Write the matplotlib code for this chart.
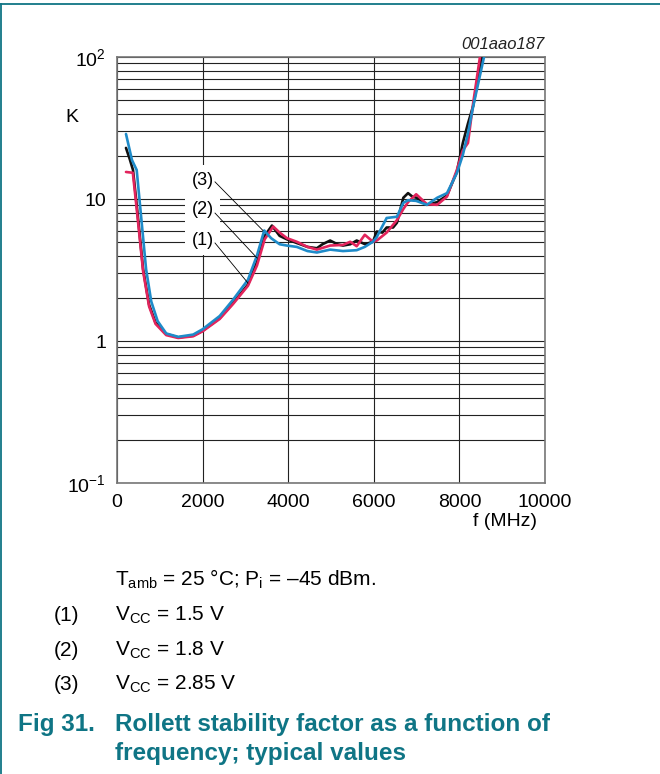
import matplotlib
matplotlib.use("Agg")
import matplotlib.pyplot as plt
import matplotlib.ticker as mticker
from matplotlib.lines import Line2D

plt.rcParams.update({
    "font.family": ["Liberation Sans", "DejaVu Sans"],
    "mathtext.fontset": "custom",
    "mathtext.rm": "Liberation Sans",
    "mathtext.it": "Liberation Sans:italic",
    "mathtext.bf": "Liberation Sans:bold",
})

TEAL = "#0f7585"

# (1) Vcc = 1.5 V  (black)
F1 = [210, 300, 374, 470, 610, 750, 900, 1150, 1430, 1780, 2000, 2400, 2710, 3060,
      3270, 3450, 3620, 3800, 3970, 4200, 4450, 4670, 4800, 4980, 5150, 5280, 5450,
      5600, 5800, 5980, 6070, 6200, 6300, 6450, 6540, 6690, 6800, 6900, 7000, 7240,
      7480, 7710, 7940, 8080, 8200, 8320, 8530]
K1 = [22.9, 19.0, 16.0, 8.5, 3.2, 1.8, 1.35, 1.12, 1.06, 1.09, 1.18, 1.45, 1.85, 2.5,
      3.6, 5.5, 6.5, 5.5, 5.2, 4.9, 4.6, 4.5, 4.8, 5.1, 4.8, 4.7, 4.8,
      5.1, 4.8, 5.0, 5.9, 5.8, 6.3, 6.3, 6.8, 10.2, 11.0, 10.4, 10.2, 9.1,
      9.5, 10.6, 15.5, 24.8, 34.0, 45.0, 100.0]

# (2) Vcc = 1.8 V  (red)
F2 = [210, 370, 470, 610, 750, 900, 1150, 1430, 1780, 2000, 2400, 2710, 3060, 3270,
      3450, 3650, 3800, 3970, 4200, 4450, 4670, 4980, 5280, 5450, 5600, 5790, 5980,
      6070, 6300, 6540, 6690, 6800, 6990, 7240, 7480, 7710, 7940, 8080, 8200, 8320,
      8480]
K2 = [15.5, 15.3, 8.0, 3.1, 1.75, 1.32, 1.1, 1.05, 1.08, 1.17, 1.43, 1.82, 2.45, 3.4,
      5.2, 6.4, 5.8, 5.3, 5.0, 4.6, 4.4, 4.7, 4.75, 5.0, 4.65, 5.6, 5.0,
      5.1, 5.8, 7.1, 8.5, 9.5, 10.8, 9.2, 9.1, 10.4, 16.0, 22.0, 24.8, 47.0,
      100.0]

# (3) Vcc = 2.85 V  (blue)
F3 = [210, 350, 460, 680, 800, 950, 1150, 1430, 1780, 2000, 2400, 2710, 3060, 3270,
      3440, 3600, 3800, 3970, 4200, 4450, 4670, 4980, 5280, 5600, 5790, 5980, 6070,
      6300, 6540, 6690, 6800, 6990, 7240, 7480, 7710, 7940, 8080, 8200, 8320, 8575]
K3 = [28.7, 18.8, 16.0, 3.2, 1.9, 1.38, 1.13, 1.07, 1.11, 1.21, 1.5, 1.95, 2.7, 4.0,
      6.0, 5.3, 4.8, 4.7, 4.6, 4.3, 4.2, 4.4, 4.3, 4.36, 4.6, 5.0, 5.4,
      7.35, 7.5, 9.4, 9.8, 9.7, 9.1, 10.2, 11.0, 15.2, 20.4, 29.0, 44.6, 100.0]

SERIES = [(F1, K1, "#111111"), (F2, K2, "#e2245c"), (F3, K3, "#1e8bc9")]

X_TICKS = [0, 2000, 4000, 6000, 8000, 10000]
Y_TICKS = [0.1, 1, 10, 100]
Y_LABELS = ["$10^{-1}$", "1", "10", "$10^{2}$"]

fig = plt.figure(figsize=(6.6, 7.74), dpi=100)
ax = fig.add_axes([117 / 660, 1 - 483 / 774, 428 / 660, 426 / 774])

for f, k, c in SERIES:
    ax.plot(f, k, color=c, lw=1.9, solid_joinstyle="round", solid_capstyle="round",
            zorder=4)

ax.set_yscale("log")
ax.set_xlim(0, 10000)
ax.set_ylim(0.1, 100)
ax.set_xticks(X_TICKS)
ax.set_yticks(Y_TICKS)
ax.set_yticklabels(Y_LABELS)
ax.yaxis.set_minor_locator(mticker.LogLocator(base=10, subs=range(2, 10)))
ax.yaxis.set_minor_formatter(mticker.NullFormatter())
ax.grid(True, which="both", axis="y", color="#222222", lw=0.8)
ax.grid(True, which="major", axis="x", color="#222222", lw=0.8)
ax.tick_params(which="both", length=0, labelsize=14, pad=8)
for s in ax.spines.values():
    s.set_color("#777777")
    s.set_linewidth(1.2)

# curve labels with leader lines
LABELS = [("(3)", 13.6, 2290, 13.2, 3410, 6.0),
          ("(2)", 8.4, 2290, 7.96, 3270, 3.85),
          ("(1)", 5.14, 2290, 4.9, 3060, 2.56)]
for txt, ky, x0, y0, x1, y1 in LABELS:
    ax.text(2000, ky, txt, ha="center", va="center", fontsize=13, zorder=3,
            bbox=dict(boxstyle="square,pad=0.35", fc="white", ec="none"))
    ax.add_line(Line2D([x0, x1], [y0, y1], color="black", lw=0.6, zorder=5))

ax.text(1.0, 1.012, "001aao187", transform=ax.transAxes, ha="right", va="bottom",
        fontsize=12, style="italic", color="#222222")
fig.text(72 / 660, 1 - 117 / 774, "K", ha="center", va="center", fontsize=14)
fig.text(505 / 660, 1 - 522 / 774, "f (MHz)", ha="center", va="center", fontsize=14)

# caption
fig.text(115 / 660, 1 - 586 / 774, r"T$_{\mathrm{amb}}$ = 25 °C; P$_{\mathrm{i}}$ = –45 dBm.",
         ha="left", va="baseline", fontsize=15)
NOTES = [("(1)", "1.5 V", 621), ("(2)", "1.8 V", 656), ("(3)", "2.85 V", 690)]
for num, val, yb in NOTES:
    fig.text(54 / 660, 1 - yb / 774, num, ha="left", va="baseline", fontsize=15)
    fig.text(115 / 660, 1 - yb / 774, r"V$_{\mathrm{CC}}$ = " + val, ha="left",
             va="baseline", fontsize=15)
fig.text(18 / 660, 1 - 731 / 774, "Fig 31.", ha="left", va="baseline", fontsize=17.5,
         weight="bold", color=TEAL)
fig.text(115 / 660, 1 - 731 / 774, "Rollett stability factor as a function of",
         ha="left", va="baseline", fontsize=17.5, weight="bold", color=TEAL)
fig.text(115 / 660, 1 - 760 / 774, "frequency; typical values",
         ha="left", va="baseline", fontsize=17.5, weight="bold", color=TEAL)

# page frame lines
fig.add_artist(Line2D([0, 1], [1 - 4 / 774, 1 - 4 / 774], color=TEAL, lw=1.3,
                      transform=fig.transFigure))
fig.add_artist(Line2D([0.8 / 660, 0.8 / 660], [0, 1 - 4 / 774], color=TEAL, lw=1.3,
                      transform=fig.transFigure))

fig.savefig("out.png", dpi=100)
